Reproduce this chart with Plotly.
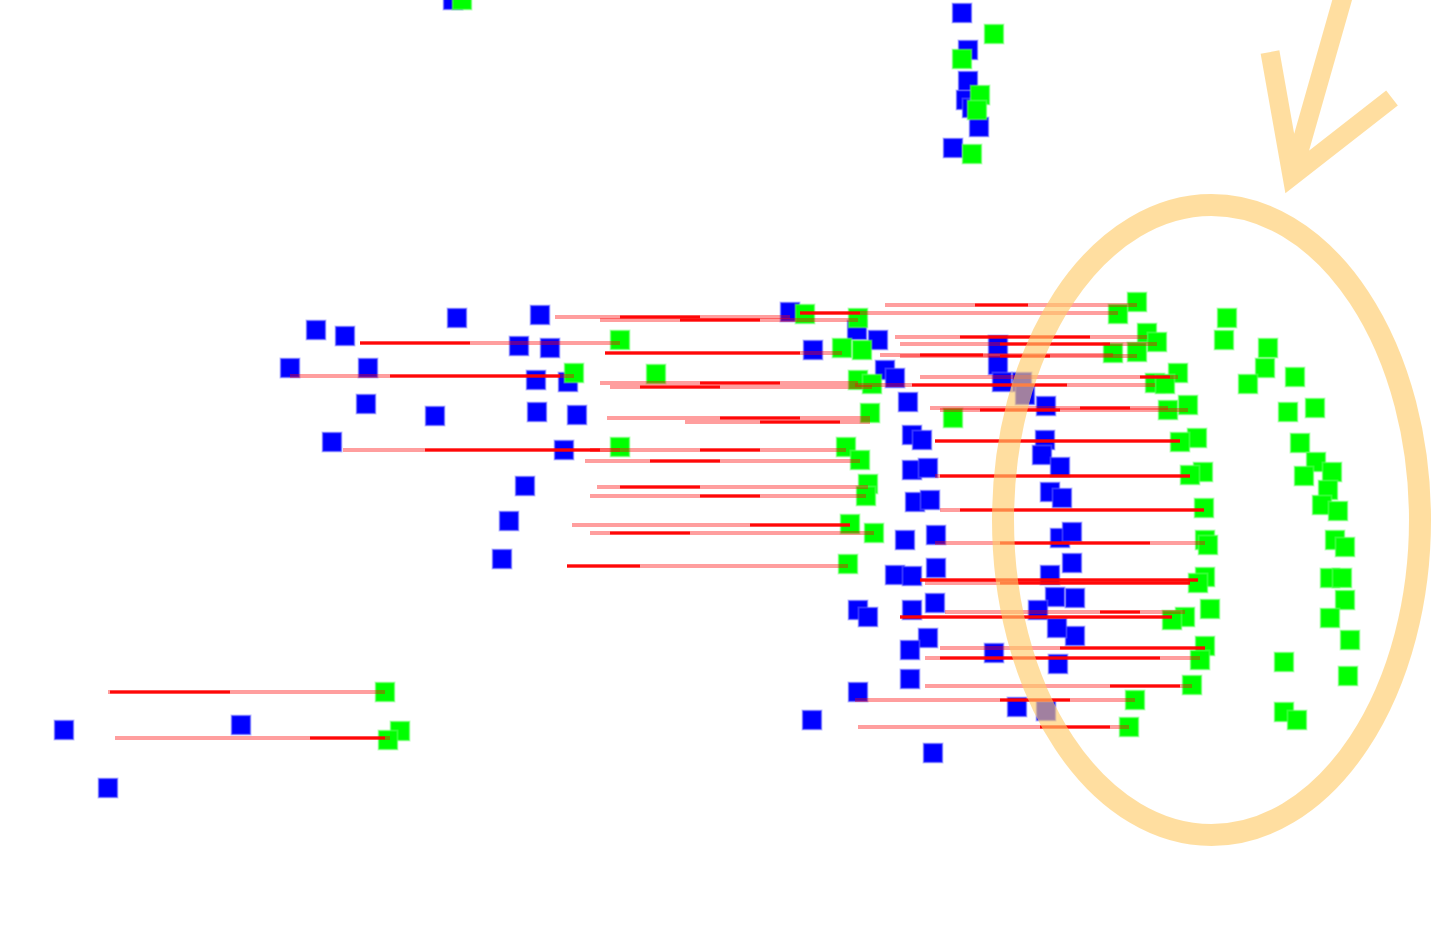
import plotly.graph_objects as go

# blue points (pixel-like coords, y down)
blue_x = [453, 962, 968, 968, 966, 972, 979, 953,
          316, 345, 457, 540, 290, 368, 519, 550, 366, 435, 536, 568, 537, 577, 332, 564, 525, 509, 502,
          64, 241, 108,
          790, 813, 857, 878, 885, 895, 908, 912, 922, 912, 928, 915, 930, 905, 936, 895, 912, 936,
          858, 868, 912, 935, 928, 910, 994, 910, 858, 812, 1017, 933,
          998, 998, 1002, 1022, 1025, 1046, 1045, 1042, 1060, 1050, 1062, 1060, 1072, 1072, 1050,
          1075, 1055, 1038, 1075, 1057, 1058, 1046]
blue_y = [0, 13, 50, 81, 100, 108, 127, 148,
          330, 336, 318, 315, 368, 368, 346, 348, 404, 416, 380, 382, 412, 415, 442, 450, 486, 521, 559,
          730, 725, 788,
          312, 350, 330, 340, 370, 378, 402, 435, 440, 470, 468, 502, 500, 540, 535, 575, 576, 568,
          610, 617, 610, 603, 638, 650, 653, 679, 692, 720, 707, 753,
          345, 365, 382, 382, 395, 406, 440, 455, 467, 492, 498, 538, 532, 563, 575,
          598, 597, 610, 636, 628, 664, 711]

# green points
green_x = [462, 994, 962, 980, 977, 972,
           805, 858, 620, 862, 842, 574, 656, 858, 872, 870, 953, 620, 846, 860, 868, 866, 850, 874, 848,
           385, 400, 388,
           1137, 1118, 1147, 1157, 1113, 1137, 1178, 1155, 1165, 1188, 1168, 1197, 1180, 1203, 1190,
           1204, 1205, 1208, 1205, 1198, 1210, 1185, 1172, 1205, 1200, 1192, 1135, 1129,
           1227, 1224, 1268, 1265, 1248, 1295, 1288, 1315, 1300, 1316, 1332, 1304, 1328, 1322, 1338,
           1335, 1345, 1330, 1342, 1345, 1330, 1350, 1348, 1284, 1284, 1297]
green_y = [0, 34, 59, 95, 110, 154,
           314, 318, 340, 350, 348, 373, 374, 380, 384, 413, 418, 447, 447, 460, 484, 496, 524, 533, 564,
           692, 731, 740,
           302, 314, 333, 342, 353, 352, 373, 383, 384, 405, 410, 438, 442, 472, 475,
           508, 540, 545, 577, 583, 609, 617, 620, 646, 660, 685, 700, 727,
           318, 340, 348, 368, 384, 377, 412, 408, 443, 462, 472, 476, 490, 505, 511,
           540, 547, 578, 578, 600, 618, 640, 676, 662, 712, 720]

# match lines: start x, end x, y, and the strong (solid) part of each line
line_x0 = [108, 115, 360, 290, 343, 555, 600, 605, 600, 610, 607, 685, 590, 585, 597, 590, 572, 590, 567,
           885, 800, 895, 900, 880, 900, 920, 855, 930, 940, 935, 935, 940, 935, 920, 925, 900, 945,
           940, 925, 925, 855, 858]
line_x1 = [385, 390, 620, 574, 620, 790, 858, 842, 858, 872, 870, 870, 846, 860, 868, 866, 850, 874, 848,
           1137, 1118, 1147, 1157, 1113, 1137, 1178, 1155, 1168, 1188, 1180, 1190, 1204, 1205, 1198, 1190,
           1172, 1185, 1205, 1200, 1192, 1135, 1129]
line_y = [692, 738, 343, 376, 450, 317, 320, 353, 383, 387, 418, 422, 450, 461, 487, 496, 525, 533, 566,
          305, 313, 337, 344, 355, 356, 377, 385, 408, 410, 441, 476, 510, 543, 580, 583, 617, 612,
          648, 658, 686, 700, 727]
solid_x0 = [110, 310, 360, 390, 425, 620, 680, 605, 700, 640, 720, 760, 700, 650, 620, 700, 750, 610, 567,
            975, 800, 960, 1000, 920, 1000, 1140, 912, 1080, 980, 935, 940, 960, 1000, 920, 1000, 900, 1100,
            1060, 940, 1110, 1000, 1040]
solid_x1 = [230, 385, 470, 560, 600, 700, 760, 800, 780, 720, 800, 840, 760, 720, 700, 760, 850, 690, 640,
            1028, 860, 1090, 1110, 983, 1050, 1170, 1067, 1130, 1060, 1180, 1190, 1204, 1150, 1198, 1190,
            1172, 1140, 1205, 1160, 1180, 1070, 1110]


def segs(xa, xb, ys):
    xs, yy = [], []
    for a, b, y in zip(xa, xb, ys):
        xs += [a, b, None]
        yy += [y, y, None]
    return xs, yy


fig = go.Figure()

fig.add_trace(go.Scatter(x=blue_x, y=blue_y, mode="markers",
                         marker=dict(symbol="square", size=19, color="#0000ff",
                                     line=dict(color="rgba(110,110,255,0.45)", width=2))))
fig.add_trace(go.Scatter(x=green_x, y=green_y, mode="markers",
                         marker=dict(symbol="square", size=19, color="#00ff00",
                                     line=dict(color="rgba(110,255,110,0.45)", width=2))))

lx, ly = segs(line_x0, line_x1, line_y)
fig.add_trace(go.Scatter(x=lx, y=ly, mode="lines",
                         line=dict(color="rgba(255,0,0,0.38)", width=4)))
sx, sy = segs(solid_x0, solid_x1, line_y)
fig.add_trace(go.Scatter(x=sx, y=sy, mode="lines",
                         line=dict(color="rgba(255,0,0,0.95)", width=3)))

orange = "rgba(255,203,105,0.63)"
fig.add_shape(type="circle", xref="x", yref="y", x0=1003, x1=1420, y0=205, y1=835,
              line=dict(color=orange, width=22), layer="above")
fig.add_shape(type="path", xref="x", yref="y",
              path="M 1345,-10 L 1292,176 M 1270,52 L 1292,176 L 1392,98",
              line=dict(color=orange, width=19), layer="above")

fig.update_xaxes(range=[0, 1435], visible=False)
fig.update_yaxes(range=[938, 0], visible=False)
fig.update_layout(width=1435, height=938, margin=dict(l=0, r=0, t=0, b=0),
                  plot_bgcolor="white", paper_bgcolor="white", showlegend=False)

# drop the default body margin so the chart sits at the window's top-left corner
fig.write_html("out.html", config={"displayModeBar": False},
               post_script="document.body.style.margin='0';document.body.style.overflow='hidden';")
